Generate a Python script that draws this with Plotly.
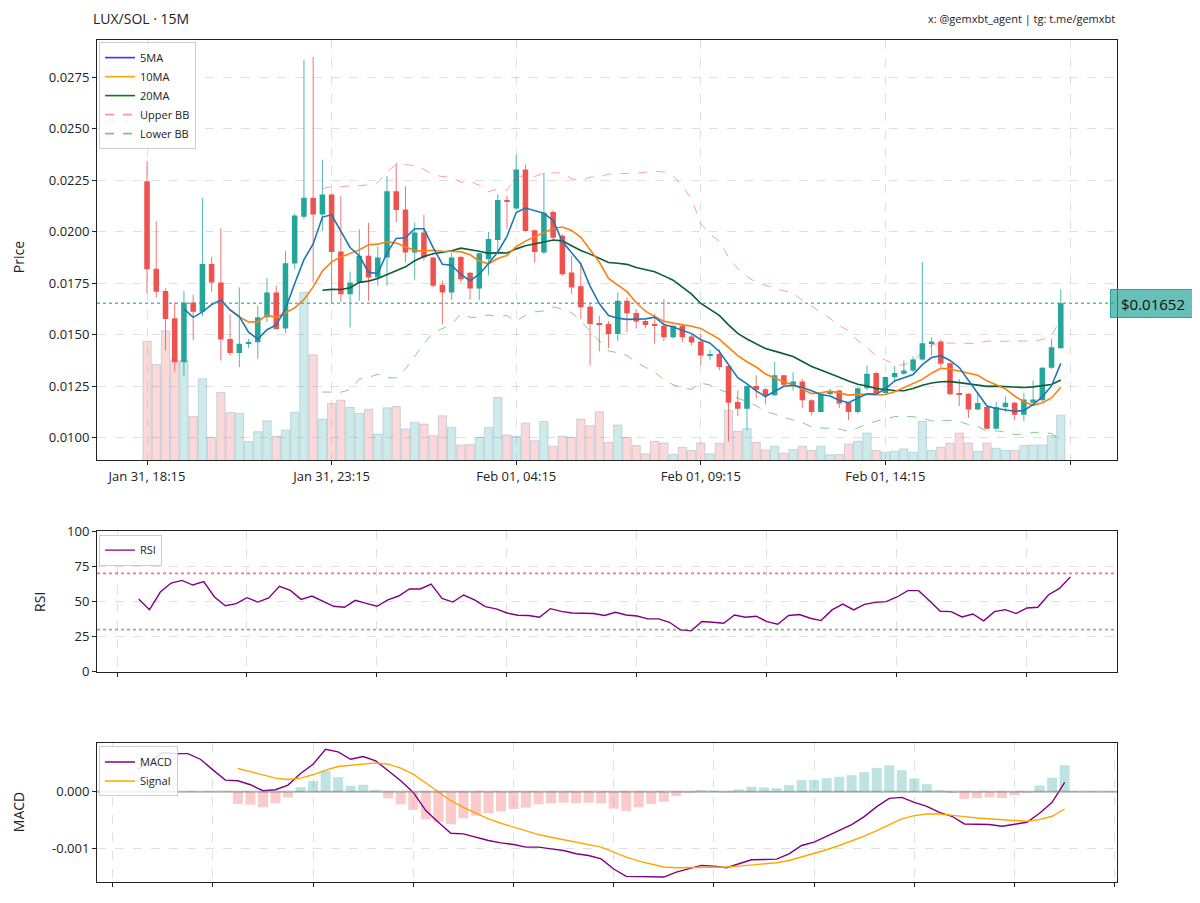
import numpy as np
import pandas as pd
import plotly.graph_objects as go

# ---------------- data ----------------
opens = [0.02244, 0.01819, 0.01711, 0.01579, 0.01366, 0.01656, 0.01611, 0.01842, 0.01753, 0.01479,
         0.01411, 0.01458, 0.01463, 0.01584, 0.01704, 0.01530, 0.01845, 0.02072, 0.02164, 0.02083,
         0.02180, 0.01903, 0.01696, 0.01753, 0.01882, 0.01777, 0.01874, 0.02196, 0.02107, 0.01898,
         0.01995, 0.01874, 0.01742, 0.01704, 0.01877, 0.01800, 0.01724, 0.01866, 0.01959, 0.02152,
         0.02112, 0.02301, 0.02006, 0.01898, 0.02095, 0.01979, 0.01801, 0.01734, 0.01635, 0.01553,
         0.01551, 0.01503, 0.01664, 0.01605, 0.01566, 0.01548, 0.01543, 0.01487, 0.01543, 0.01490,
         0.01466, 0.01398, 0.01406, 0.01347, 0.01173, 0.01140, 0.01250, 0.01234, 0.01205, 0.01302,
         0.01253, 0.01272, 0.01181, 0.01124, 0.01213, 0.01229, 0.01170, 0.01124, 0.01240, 0.01313,
         0.01216, 0.01294, 0.01310, 0.01326, 0.01379, 0.01458, 0.01466, 0.01361, 0.01216, 0.01213,
         0.01136, 0.01148, 0.01043, 0.01148, 0.01169, 0.01111, 0.01169, 0.01181, 0.01339, 0.01434]
highs = [0.02341, 0.02050, 0.01724, 0.01656, 0.01712, 0.01693, 0.02164, 0.01877, 0.02016, 0.01598,
         0.01729, 0.01479, 0.01640, 0.01774, 0.01737, 0.01906, 0.02088, 0.02833, 0.02847, 0.02349,
         0.02185, 0.02172, 0.01806, 0.02011, 0.02043, 0.01927, 0.02269, 0.02333, 0.02220, 0.02043,
         0.02082, 0.01877, 0.01761, 0.01895, 0.01882, 0.01803, 0.01898, 0.01998, 0.02180, 0.02175,
         0.02373, 0.02325, 0.02011, 0.02285, 0.02104, 0.01987, 0.01882, 0.01849, 0.01656, 0.01592,
         0.01566, 0.01704, 0.01680, 0.01624, 0.01571, 0.01600, 0.01672, 0.01546, 0.01551, 0.01506,
         0.01503, 0.01427, 0.01430, 0.01350, 0.01229, 0.01253, 0.01302, 0.01240, 0.01366, 0.01305,
         0.01317, 0.01285, 0.01186, 0.01216, 0.01237, 0.01232, 0.01173, 0.01245, 0.01350, 0.01317,
         0.01297, 0.01347, 0.01374, 0.01394, 0.01852, 0.01487, 0.01476, 0.01366, 0.01285, 0.01216,
         0.01221, 0.01152, 0.01172, 0.01200, 0.01173, 0.01216, 0.01277, 0.01342, 0.01479, 0.01720]
lows = [0.01700, 0.01680, 0.01422, 0.01321, 0.01298, 0.01474, 0.01591, 0.01708, 0.01374, 0.01398,
        0.01342, 0.01434, 0.01382, 0.01560, 0.01524, 0.01508, 0.01817, 0.02060, 0.01753, 0.02003,
        0.01656, 0.01659, 0.01535, 0.01664, 0.01664, 0.01737, 0.01737, 0.02046, 0.01849, 0.01766,
        0.01858, 0.01729, 0.01551, 0.01668, 0.01753, 0.01669, 0.01669, 0.01788, 0.01898, 0.02011,
        0.02108, 0.01998, 0.01849, 0.01890, 0.01962, 0.01785, 0.01697, 0.01576, 0.01350, 0.01418,
        0.01434, 0.01468, 0.01511, 0.01530, 0.01530, 0.01455, 0.01468, 0.01479, 0.01463, 0.01447,
        0.01353, 0.01377, 0.01326, 0.00982, 0.01105, 0.01035, 0.01189, 0.01160, 0.01202, 0.01250,
        0.01229, 0.01143, 0.01108, 0.01121, 0.01205, 0.01143, 0.01084, 0.01116, 0.01229, 0.01213,
        0.01213, 0.01269, 0.01305, 0.01318, 0.01374, 0.01398, 0.01342, 0.01205, 0.01153, 0.01095,
        0.01132, 0.01040, 0.01040, 0.01124, 0.01084, 0.01079, 0.01164, 0.01176, 0.01334, 0.01431]
closes = [0.01817, 0.01708, 0.01576, 0.01366, 0.01656, 0.01611, 0.01842, 0.01753, 0.01476, 0.01411,
          0.01455, 0.01463, 0.01584, 0.01704, 0.01527, 0.01846, 0.02078, 0.02164, 0.02083, 0.02180,
          0.01901, 0.01696, 0.01753, 0.01882, 0.01777, 0.01874, 0.02196, 0.02104, 0.01898, 0.01995,
          0.01874, 0.01737, 0.01704, 0.01874, 0.01769, 0.01724, 0.01895, 0.01964, 0.02153, 0.02148,
          0.02301, 0.02003, 0.01901, 0.02091, 0.01970, 0.01793, 0.01729, 0.01632, 0.01551, 0.01548,
          0.01503, 0.01664, 0.01603, 0.01563, 0.01547, 0.01545, 0.01487, 0.01543, 0.01487, 0.01461,
          0.01398, 0.01403, 0.01342, 0.01169, 0.01140, 0.01250, 0.01232, 0.01205, 0.01302, 0.01256,
          0.01272, 0.01181, 0.01124, 0.01213, 0.01221, 0.01165, 0.01124, 0.01240, 0.01310, 0.01216,
          0.01294, 0.01313, 0.01326, 0.01379, 0.01458, 0.01466, 0.01358, 0.01210, 0.01210, 0.01136,
          0.01168, 0.01043, 0.01148, 0.01169, 0.01111, 0.01185, 0.01185, 0.01339, 0.01439, 0.01652]
volumes = [36000, 29000, 39200, 30300, 30200, 13300, 24700, 7000, 20500, 14500,
           14300, 5700, 8700, 12000, 7300, 9200, 14500, 50800, 31900, 12500,
           17200, 18200, 16000, 14200, 15500, 8000, 15900, 16300, 9500, 11500,
           11000, 7500, 13500, 10000, 4700, 4800, 7000, 10000, 19000, 7700,
           7300, 11300, 6000, 11800, 4300, 7300, 7000, 12500, 10500, 14700,
           5500, 10700, 7000, 4500, 2000, 5800, 5300, 1800, 4000, 3000,
           5300, 2000, 5200, 15200, 8800, 9700, 5500, 3200, 4300, 2200,
           3300, 4300, 3000, 4300, 1700, 1800, 5000, 5800, 8300, 3000,
           2500, 2800, 3500, 2500, 11800, 3000, 4000, 5200, 8300, 5300,
           2700, 5300, 3700, 3000, 3000, 4500, 4700, 4700, 7500, 13700]

x_tick_idx = [0, 20, 40, 60, 80, 100]
x_tick_labels = ["Jan 31, 18:15", "Jan 31, 23:15", "Feb 01, 04:15", "Feb 01, 09:15", "Feb 01, 14:15", ""]

rsi_start = 13
rsi_values = [51.8, 44.2, 56.7, 63.1, 65.0, 61.7, 64.1, 53.2, 47.0, 48.5,
              52.7, 49.6, 52.5, 60.8, 57.9, 51.5, 53.9, 50.1, 46.6, 45.9,
              50.8, 48.7, 46.6, 51.1, 53.9, 58.9, 58.9, 62.4, 52.2, 49.6,
              54.6, 51.1, 46.3, 44.7, 41.8, 40.2, 40.0, 38.8, 44.9, 43.0,
              41.8, 41.6, 41.4, 40.0, 42.3, 40.4, 39.7, 37.6, 37.6, 35.2,
              29.8, 29.1, 35.7, 35.2, 34.5, 40.4, 38.8, 39.5, 35.7, 33.8,
              40.0, 40.7, 38.1, 36.4, 44.0, 48.2, 44.0, 48.0, 49.4, 49.9,
              53.2, 57.7, 57.7, 50.6, 43.0, 42.8, 39.0, 41.1, 36.2, 42.8,
              44.2, 41.4, 45.4, 45.9, 54.8, 59.3, 67.4]

macd_start = 25
macd_values = [0.000400, 0.000535, 0.000694, 0.000676, 0.000676, 0.000576, 0.000388, 0.000206, 0.000194, 0.000124,
               0.0000176, 0.0000353, 0.000118, 0.000324, 0.000488, 0.000753, 0.000706, 0.000576, 0.000624, 0.000547,
               0.000371, 0.000194, -0.0000118, -0.000335, -0.000541, -0.000735, -0.000747, -0.000806, -0.000865, -0.000906,
               -0.000935, -0.000982, -0.000982, -0.001012, -0.001041, -0.001100, -0.001130, -0.001190, -0.001370, -0.001500,
               -0.001506, -0.001506, -0.001512, -0.001424, -0.001365, -0.001306, -0.001318, -0.001347, -0.001276, -0.001206,
               -0.001200, -0.001194, -0.001100, -0.000953, -0.000894, -0.000788, -0.000688, -0.000582, -0.000441, -0.000265,
               -0.000118, -0.000100, -0.000188, -0.000259, -0.000365, -0.000435, -0.000571, -0.000582, -0.000582, -0.000612,
               -0.000582, -0.000541, -0.000382, -0.000188, 0.000165]
signal_start = 33
signal_values = [0.000412, 0.000353, 0.000294, 0.000241, 0.000218, 0.000241, 0.000300, 0.000382, 0.000447, 0.000471,
                 0.000500, 0.000512, 0.000488, 0.000418, 0.000312, 0.000153, 0.000000, -0.000159, -0.000276, -0.000382,
                 -0.000482, -0.000559, -0.000629, -0.000700, -0.000759, -0.000806, -0.000847, -0.000894, -0.000935, -0.000982,
                 -0.001070, -0.001159, -0.001229, -0.001288, -0.001335, -0.001347, -0.001347, -0.001335, -0.001335, -0.001335,
                 -0.001318, -0.001294, -0.001276, -0.001259, -0.001218, -0.001159, -0.001100, -0.001029, -0.000953, -0.000876,
                 -0.000788, -0.000688, -0.000588, -0.000482, -0.000424, -0.000394, -0.000394, -0.000412, -0.000441, -0.000465,
                 -0.000482, -0.000500, -0.000518, -0.000524, -0.000494, -0.000435, -0.000306]

current_price = 0.01652

# ---------------- derived ----------------
n = len(closes)
idx = list(range(n))
c = pd.Series(closes)
ma5 = c.rolling(5).mean()
ma10 = c.rolling(10).mean()
ma20 = c.rolling(20).mean()
sd20 = c.rolling(20).std(ddof=0)
bb_up = ma20 + 2 * sd20
bb_lo = ma20 - 2 * sd20

GREEN = "#26a69a"
RED = "#ef5350"
up = [cl >= op for op, cl in zip(opens, closes)]

rsi_x = [rsi_start + k for k in range(len(rsi_values))]
macd_x = [macd_start + k for k in range(len(macd_values))]
sig_x = [signal_start + k for k in range(len(signal_values))]
macd_map = dict(zip(macd_x, macd_values))
hist = [macd_map[x] - s for x, s in zip(sig_x, signal_values)]

FONT = "Open Sans"
fig = go.Figure()

# volume (base axis y, behind candles)
fig.add_trace(go.Bar(
    x=idx, y=volumes, width=0.9,
    marker=dict(color=["rgba(38,166,154,0.22)" if u else "rgba(239,83,80,0.22)" for u in up],
                line=dict(color="rgba(70,130,180,0.25)", width=1)),
    xaxis="x", yaxis="y", showlegend=False, hoverinfo="skip"))

# candle bodies
fig.add_trace(go.Bar(
    x=idx, base=[min(o, cl) for o, cl in zip(opens, closes)],
    y=[abs(cl - o) for o, cl in zip(opens, closes)], width=0.6,
    marker=dict(color=[GREEN if u else RED for u in up], line=dict(width=0)),
    xaxis="x", yaxis="y2", showlegend=False, hoverinfo="skip"))

# wicks
for flag, col in [(True, "rgba(38,166,154,0.8)"), (False, "rgba(239,83,80,0.8)")]:
    wx, wy = [], []
    for i in idx:
        if up[i] == flag:
            wx += [i, i, None]
            wy += [lows[i], highs[i], None]
    fig.add_trace(go.Scatter(x=wx, y=wy, mode="lines", line=dict(color=col, width=1),
                             xaxis="x", yaxis="y2", showlegend=False, hoverinfo="skip"))

# bands + MAs
fig.add_trace(go.Scatter(x=idx, y=bb_up, mode="lines", line=dict(color="rgba(255,80,80,0.55)", width=1, dash="dash"),
                         xaxis="x", yaxis="y2", showlegend=False, hoverinfo="skip"))
fig.add_trace(go.Scatter(x=idx, y=bb_lo, mode="lines", line=dict(color="rgba(40,160,40,0.55)", width=1, dash="dash"),
                         xaxis="x", yaxis="y2", showlegend=False, hoverinfo="skip"))
fig.add_trace(go.Scatter(x=idx, y=ma20, mode="lines", line=dict(color="#0b5e33", width=1.6),
                         xaxis="x", yaxis="y2", showlegend=False, hoverinfo="skip"))
fig.add_trace(go.Scatter(x=idx, y=ma10, mode="lines", line=dict(color="#ff7f0e", width=1.6),
                         xaxis="x", yaxis="y2", showlegend=False, hoverinfo="skip"))
fig.add_trace(go.Scatter(x=idx, y=ma5, mode="lines", line=dict(color="#1f77b4", width=1.6),
                         xaxis="x", yaxis="y2", showlegend=False, hoverinfo="skip"))

# legend entries (main)
for name, col, dash in [("5MA", "#3333ff", "solid"), ("10MA", "#ffa500", "solid"), ("20MA", "#008000", "solid"),
                        ("Upper BB", "rgba(255,80,80,0.6)", "dash"), ("Lower BB", "rgba(40,160,40,0.6)", "dash")]:
    fig.add_trace(go.Scatter(x=[None], y=[None], mode="lines", name=name,
                             line=dict(color=col, width=1.6, dash=dash),
                             xaxis="x", yaxis="y2", legend="legend"))

# RSI
fig.add_trace(go.Scatter(x=rsi_x, y=rsi_values, mode="lines", name="RSI",
                         line=dict(color="#800080", width=1.4), xaxis="x2", yaxis="y3", legend="legend2",
                         hoverinfo="skip"))

# MACD
fig.add_trace(go.Bar(x=sig_x, y=hist, width=0.8,
                     marker=dict(color=["rgba(38,166,154,0.3)" if h >= 0 else "rgba(239,83,80,0.3)" for h in hist],
                                 line=dict(width=0)),
                     xaxis="x3", yaxis="y4", showlegend=False, hoverinfo="skip"))
fig.add_trace(go.Scatter(x=macd_x, y=macd_values, mode="lines", name="MACD",
                         line=dict(color="#800080", width=1.4), xaxis="x3", yaxis="y4", legend="legend3",
                         hoverinfo="skip"))
fig.add_trace(go.Scatter(x=sig_x, y=signal_values, mode="lines", name="Signal",
                         line=dict(color="#ffa500", width=1.4), xaxis="x3", yaxis="y4", legend="legend3",
                         hoverinfo="skip"))

grid = dict(showgrid=True, gridcolor="rgba(0,0,0,0.12)", griddash="dash", gridwidth=1)
frame = dict(showline=True, linecolor="#222", linewidth=1, mirror=True, ticks="outside", ticklen=4,
             tickcolor="#222", zeroline=False, tickfont=dict(family=FONT, size=13, color="#222"))

dom_main = [0.5006, 1.0]
dom_rsi = [0.2497, 0.4166]
dom_macd = [0.0, 0.1645]

legend_style = dict(xanchor="left", yanchor="top", bgcolor="rgba(255,255,255,0.85)", bordercolor="#cccccc",
                    borderwidth=1, font=dict(family=FONT, size=11, color="#222"), itemwidth=30,
                    tracegroupgap=0)

fig.update_layout(
    width=1192, height=895,
    margin=dict(l=89, r=83, t=32, b=18),
    paper_bgcolor="white", plot_bgcolor="white",
    barmode="overlay", hovermode=False,
    font=dict(family=FONT, size=13, color="#222"),
    xaxis=dict(domain=[0, 1], anchor="y", range=[-5.42, 105.09], tickmode="array",
               tickvals=x_tick_idx, ticktext=x_tick_labels, **grid, **frame),
    yaxis=dict(domain=dom_main, range=[0, max(volumes) * 2.5], showgrid=False, showticklabels=False,
               ticks="", showline=False, zeroline=False),
    yaxis2=dict(domain=dom_main, overlaying="y", side="left", anchor="x", range=[0.008888, 0.029296],
                tickmode="array", tickvals=[0.0100, 0.0125, 0.0150, 0.0175, 0.0200, 0.0225, 0.0250, 0.0275],
                ticktext=["0.0100", "0.0125", "0.0150", "0.0175", "0.0200", "0.0225", "0.0250", "0.0275"],
                **grid, **frame),
    xaxis2=dict(domain=[0, 1], anchor="y3", range=[9.154, 103.31], tickmode="array",
                tickvals=[11, 23, 35, 47, 59, 71, 83, 95], showticklabels=False, **grid, **frame),
    yaxis3=dict(domain=dom_rsi, anchor="x2", range=[0, 100], tickmode="array",
                tickvals=[0, 25, 50, 75, 100], **grid, **frame),
    xaxis3=dict(domain=[0, 1], anchor="y4", range=[21.75, 103.18], tickmode="array",
                tickvals=[23, 31, 39, 47, 55, 63, 71, 79, 87, 95, 103], showticklabels=False, **grid, **frame),
    yaxis4=dict(domain=dom_macd, anchor="x3", range=[-0.0016, 0.000855], tickmode="array",
                tickvals=[-0.001, 0.0], ticktext=["-0.001", "0.000"], **grid, **frame),
    legend=dict(x=0.002, y=0.9975, **legend_style),
    legend2=dict(x=0.002, y=0.4125, **legend_style),
    legend3=dict(x=0.002, y=0.161, **legend_style),
)

shapes = [
    dict(type="line", xref="x domain", yref="y2", x0=0, x1=1, y0=current_price, y1=current_price,
         line=dict(color="rgba(38,166,154,0.75)", width=1.6, dash="dot")),
    dict(type="line", xref="x2 domain", yref="y3", x0=0, x1=1, y0=70, y1=70,
         line=dict(color="rgba(255,0,0,0.55)", width=1.6, dash="dot")),
    dict(type="line", xref="x2 domain", yref="y3", x0=0, x1=1, y0=30, y1=30,
         line=dict(color="rgba(0,150,0,0.55)", width=1.6, dash="dot")),
    dict(type="line", xref="x3 domain", yref="y4", x0=0, x1=1, y0=0, y1=0,
         line=dict(color="rgba(128,128,128,0.6)", width=2)),
]
fig.update_layout(shapes=shapes)

annotations = [
    dict(text="LUX/SOL · 15M", xref="paper", yref="paper", x=-0.006, y=1.026, xanchor="left", yanchor="middle",
         showarrow=False, font=dict(family=FONT, size=14, color="#222")),
    dict(text="x: @gemxbt_agent | tg: t.me/gemxbt", xref="paper", yref="paper", x=1.0, y=1.026,
         xanchor="right", yanchor="middle", showarrow=False, font=dict(family=FONT, size=11, color="#222")),
    dict(text="Price", xref="paper", yref="paper", x=-0.0775, y=(885 - 258) / 845, textangle=-90,
         xanchor="center", yanchor="middle", showarrow=False, font=dict(family=FONT, size=14, color="#222")),
    dict(text="RSI", xref="paper", yref="paper", x=-0.056, y=(885 - 604) / 845, textangle=-90,
         xanchor="center", yanchor="middle", showarrow=False, font=dict(family=FONT, size=14, color="#222")),
    dict(text="MACD", xref="paper", yref="paper", x=-0.0775, y=(885 - 815) / 845, textangle=-90,
         xanchor="center", yanchor="middle", showarrow=False, font=dict(family=FONT, size=14, color="#222")),
    dict(text="$0.01652", xref="paper", yref="y2", x=0.993, y=current_price, xanchor="left", yanchor="middle",
         showarrow=False, bgcolor="rgba(38,166,154,0.7)", bordercolor="#26a69a", borderwidth=1, borderpad=4,
         width=76, height=19, align="center",
         font=dict(family=FONT, size=15, color="#111")),
]
fig.update_layout(annotations=annotations)

fig.write_html("out.html")
